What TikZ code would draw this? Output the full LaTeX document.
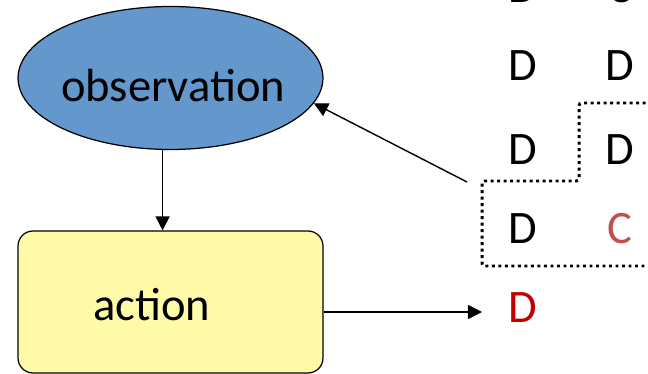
\documentclass[tikz,border=0pt]{standalone}
\usepackage{fontspec}
\setmainfont{Carlito}
\usetikzlibrary{shapes.geometric,arrows.meta}
\definecolor{obsblue}{RGB}{100,151,204}
\definecolor{actyellow}{RGB}{255,250,168}
\definecolor{coopred}{RGB}{192,80,77}
\definecolor{defred}{RGB}{192,0,0}
\begin{document}
\begin{tikzpicture}[x=0.02cm, y=-0.02cm,
  every node/.style={font=\fontsize{26.5}{31}\selectfont},
  arr/.style={-{Triangle[length=8pt,width=8pt]}, line width=0.8pt},
  obsshape/.style={ellipse, draw, line width=0.7pt, fill=obsblue, minimum width=6.1cm, minimum height=2.86cm, inner sep=0pt},
  actshape/.style={rectangle, rounded corners=8.5pt, draw, line width=0.7pt, fill=actyellow, minimum width=6.1cm, minimum height=2.84cm, inner sep=0pt},
  histline/.style={line width=1.7pt, dash pattern=on 1.7pt off 2pt, rounded corners=1.5pt}]

\useasboundingbox (0,0) rectangle (648,374);
\clip (0,0) rectangle (648,374);

% agent
\node[obsshape] (obs) at (170.5,78) {};
\node (obsText) at (173,86) {observation};
\node[actshape] (act) at (170.5,302) {};
\node (actText) at (152,305) {action};

% history of moves
\node (m0a) at (523,-12) {D};
\node (m0b) at (620,-12) {C};
\node (m1a) at (523,66) {D};
\node (m1b) at (620,66) {D};
\node (m2a) at (523,150) {D};
\node (m2b) at (620,150) {D};
\node (m3a) at (523,229) {D};
\node[text=coopred] (m3b) at (620,229) {C};
\node[text=defred] (next) at (523,308) {D};

% window
\draw[histline] (652,103) -- (579,103) -- (579,181) -- (482,181) -- (482,266) -- (652,266);

\coordinate (hist) at (467,182);
\coordinate (out) at (482,312);

\draw[arr] ([xshift=-4.5pt]obs.south) -- ([xshift=-4.5pt]act.north);
\draw[arr] (hist) -- (obs.-10);
\draw[arr] (act.east |- out) -- (out);

\end{tikzpicture}
\end{document}
